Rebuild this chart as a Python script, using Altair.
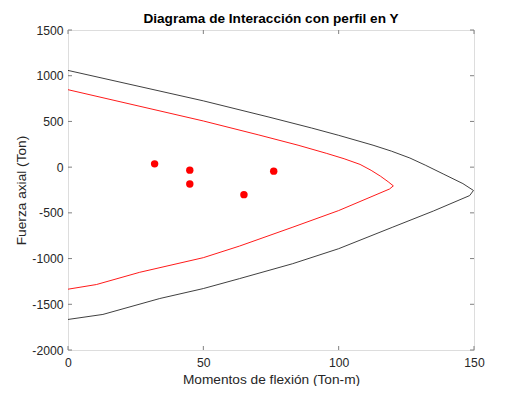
import altair as alt
import pandas as pd

# Nominal interaction curve (black)
black_m = [0, 50, 73.9, 90, 100, 112.7, 119.5, 126.3, 132, 138.6, 145.9, 149.8,
           148.4, 135, 120, 100, 83, 63.4, 50, 33.9, 12.9, 0]
black_p = [1058, 725, 550, 428, 348, 240, 175, 100, 22, -74, -180, -255,
           -311, -480, -656, -892, -1056, -1219, -1328, -1437, -1611, -1666]
# Design interaction curve (red)
red_m = [0, 50, 70.5, 85, 95.6, 102, 107.9, 112, 115.5, 118.3, 120.2,
         118.8, 100, 83.1, 63.4, 50, 26.5, 10.5, 0]
red_p = [847, 505, 352, 240, 150, 92, 30, -35, -100, -160, -205,
         -239, -475, -656, -863, -990, -1150, -1284, -1335]
# Load points
pts_m = [32, 45, 45, 65, 76]
pts_p = [36, -33, -185, -301, -44]

x_ticks = [0, 50, 100, 150]
y_ticks = [-2000, -1500, -1000, -500, 0, 500, 1000, 1500]

W, H = 406, 320
AX = "#808080"
TXT = "#262626"
FONT = "Liberation Sans"

curves = pd.DataFrame(
    [{"m": m, "p": p, "s": "nominal", "i": i} for i, (m, p) in enumerate(zip(black_m, black_p))]
    + [{"m": m, "p": p, "s": "diseno", "i": i} for i, (m, p) in enumerate(zip(red_m, red_p))]
)
pts = pd.DataFrame({"m": pts_m, "p": pts_p})
xt = pd.DataFrame({"v": x_ticks})
yt = pd.DataFrame({"v": y_ticks})

xs = alt.Scale(domain=[0, 150], nice=False, zero=False)
ys = alt.Scale(domain=[-2000, 1500], nice=False, zero=False)

xaxis = alt.Axis(values=x_ticks, labelExpr="'' + datum.value", ticks=False, domain=False, grid=False,
                 labelFontSize=12.2, labelColor=TXT, labelPadding=6, labelFont=FONT, labelFlush=False,
                 title="Momentos de flexión (Ton-m)",
                 titleFont=FONT, titleFontSize=13.7, titleFontWeight="normal", titleColor=TXT, titlePadding=4)
yaxis = alt.Axis(values=y_ticks, labelExpr="'' + datum.value", ticks=False, domain=False, grid=False,
                 labelFontSize=12.2, labelColor=TXT, labelPadding=5, labelFont=FONT, labelFlush=False,
                 title="Fuerza axial (Ton)",
                 titleFont=FONT, titleFontSize=13.7, titleFontWeight="normal", titleColor=TXT, titlePadding=3)

lines = alt.Chart(curves).mark_line(strokeWidth=0.9, clip=True).encode(
    x=alt.X("m:Q", scale=xs, axis=xaxis),
    y=alt.Y("p:Q", scale=ys, axis=yaxis),
    detail="s:N",
    order="i:Q",
    color=alt.Color("s:N", scale=alt.Scale(domain=["nominal", "diseno"], range=["#2a2a2a", "#ff0000"]), legend=None),
)

dots = alt.Chart(pts).mark_circle(size=55, opacity=1, color="#ff0000").encode(
    x=alt.X("m:Q", scale=xs),
    y=alt.Y("p:Q", scale=ys),
)

TL = 4
tb = alt.Chart(xt).mark_rule(color=AX, strokeWidth=1).encode(x=alt.X("v:Q", scale=xs), y=alt.value(H), y2=alt.value(H - TL))
tt = alt.Chart(xt).mark_rule(color=AX, strokeWidth=1).encode(x=alt.X("v:Q", scale=xs), y=alt.value(0), y2=alt.value(TL))
tl = alt.Chart(yt).mark_rule(color=AX, strokeWidth=1).encode(y=alt.Y("v:Q", scale=ys), x=alt.value(0), x2=alt.value(TL))
tr = alt.Chart(yt).mark_rule(color=AX, strokeWidth=1).encode(y=alt.Y("v:Q", scale=ys), x=alt.value(W), x2=alt.value(W - TL))

chart = alt.layer(lines, tb, tt, tl, tr, dots).properties(
    width=W, height=H,
    title=alt.TitleParams("Diagrama de Interacción con perfil en Y", font=FONT, fontSize=13.6,
                          fontWeight="bold", color="#000000", anchor="middle", offset=-2),
    autosize=alt.AutoSizeParams(type="none"),
    padding={"left": 60, "top": 22, "right": 43, "bottom": 36},
).configure_view(stroke=AX, strokeWidth=1).configure(background="white")

chart.save("out.html", embed_options={"renderer": "svg", "actions": False})
